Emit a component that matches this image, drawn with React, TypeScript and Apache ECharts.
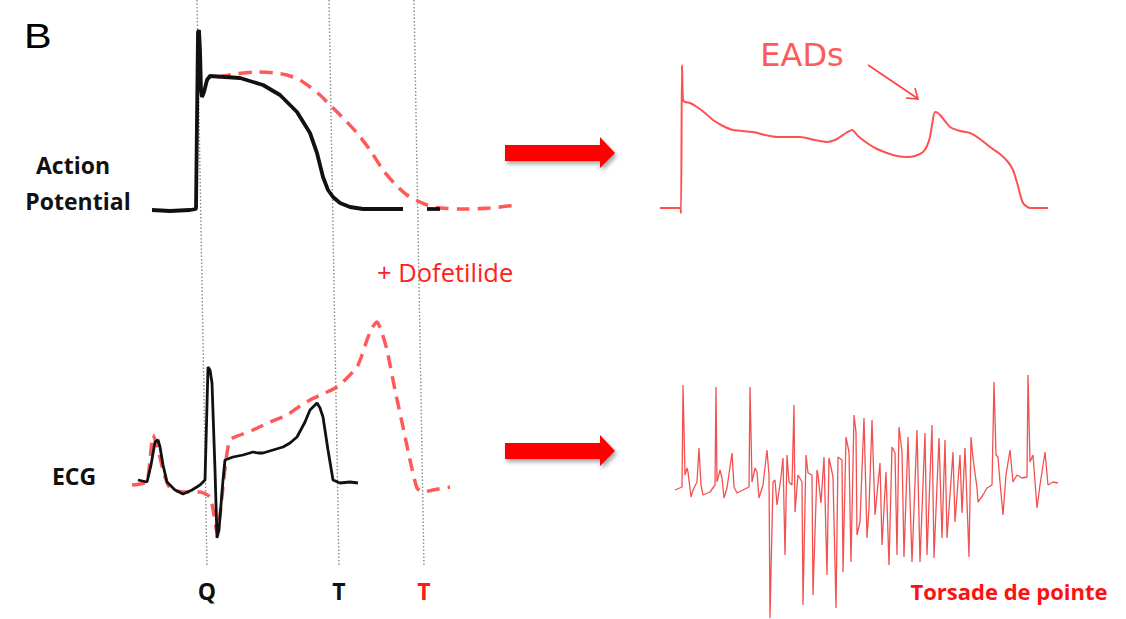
import React, { useEffect, useRef } from "react";
import * as echarts from "echarts";

// Horizontal axis: time position on the figure; vertical axis: signal level (inverted screen scale)
const apControl: number[][] = [
  [152, 210], [170, 211], [190, 210], [196, 209], [197, 120], [198, 32], [199, 30], [200, 50],
  [201, 90], [202, 97], [204, 92], [207, 80], [210, 76], [225, 77], [240, 78], [263, 85],
  [280, 95], [297, 112], [310, 133], [317, 153], [323, 177], [328, 190], [333, 197], [340, 203],
  [350, 207], [363, 209], [403, 209],
];
const apControlTail: number[][] = [[427, 209], [440, 209]];

const apDrug: number[][] = [
  [218, 77], [235, 74], [257, 72], [275, 73], [287, 75], [300, 80], [310, 87], [320, 95],
  [330, 105], [343, 118], [357, 133], [370, 150], [383, 170], [395, 184], [407, 195], [420, 202],
  [430, 206], [440, 208], [463, 209], [490, 208], [517, 205],
];

const ecgControl: number[][] = [
  [138, 480], [147, 482], [151, 465], [155, 442], [158, 440], [160, 447], [163, 465], [167, 482],
  [175, 490], [183, 494], [192, 490], [200, 485], [205, 480], [208, 367], [210, 370], [212, 383],
  [215, 470], [217, 538], [219, 530], [220, 517], [223, 480], [225, 460], [233, 457], [243, 455],
  [253, 452], [258, 453], [263, 453], [273, 450], [283, 447], [290, 443], [297, 437], [305, 422],
  [310, 410], [317, 403], [320, 408], [323, 417], [328, 450], [333, 480], [340, 483], [350, 482],
  [358, 483],
];

const ecgDrug: number[][] = [
  [132, 485], [140, 484], [147, 482], [150, 460], [153, 435], [157, 445], [163, 470], [168, 485],
  [173, 490], [185, 492], [200, 492], [210, 497], [214, 515], [217, 533], [220, 515], [223, 487],
  [226, 460], [230, 440], [240, 435], [253, 430], [270, 422], [287, 415], [300, 406], [310, 400],
  [325, 393], [337, 387], [347, 378], [357, 367], [362, 355], [367, 340], [372, 328], [377, 322],
  [382, 333], [387, 350], [395, 390], [403, 427], [410, 460], [417, 488], [423, 492], [433, 490],
  [450, 487],
];

const eadTrace: number[][] = [
  [660, 208], [680, 208], [681, 213], [682, 65], [683, 100], [685, 102], [690, 103], [697, 107],
  [705, 113], [713, 120], [723, 126], [733, 130], [753, 132], [765, 135], [777, 137], [800, 137],
  [815, 140], [827, 142], [835, 140], [840, 137], [846, 133], [852, 130], [858, 136], [867, 143],
  [877, 149], [887, 153], [897, 156], [907, 157], [915, 156], [923, 152], [927, 146], [930, 137],
  [932, 125], [935, 112], [938, 113], [940, 115], [945, 121], [950, 127], [960, 131], [970, 133],
  [980, 139], [990, 147], [1000, 154], [1008, 162], [1013, 170], [1018, 186], [1023, 203],
  [1030, 208], [1048, 208],
];

const tdpTrace: number[][] = [
  [675, 490], [682, 487], [683, 385], [685, 475], [687, 468], [688, 472], [691, 497], [693, 490],
  [697, 482], [699, 448], [701, 485], [703, 495], [710, 492], [715, 485], [716, 387], [717, 482],
  [720, 470], [722, 478], [724, 498], [727, 488], [732, 453], [734, 487], [737, 493], [747, 488],
  [749, 487], [750, 387], [752, 482], [755, 468], [757, 472], [759, 498], [763, 485], [767, 450],
  [769, 475], [770, 618], [773, 482], [775, 480], [777, 505], [781, 477], [783, 458], [785, 555],
  [787, 455], [789, 482], [792, 485], [794, 405], [795, 512], [798, 475], [802, 482], [803, 605],
  [806, 455], [808, 473], [812, 475], [813, 595], [817, 470], [818, 475], [821, 503], [824, 457],
  [827, 575], [829, 458], [832, 472], [833, 477], [836, 608], [838, 457], [842, 460], [843, 572],
  [846, 437], [849, 452], [851, 562], [854, 415], [856, 432], [857, 535], [860, 522], [864, 418],
  [867, 538], [869, 508], [872, 420], [875, 515], [880, 463], [882, 545], [886, 472], [889, 565],
  [892, 447], [895, 453], [897, 555], [899, 427], [902, 452], [904, 557], [908, 437], [912, 562],
  [917, 430], [920, 562], [925, 433], [927, 555], [932, 425], [934, 558], [939, 438], [942, 538],
  [945, 440], [947, 538], [953, 452], [955, 522], [960, 455], [962, 513], [965, 448], [969, 557],
  [971, 437], [973, 458], [977, 488], [978, 502], [983, 495], [987, 488], [992, 485], [994, 382],
  [996, 455], [998, 457], [1000, 482], [1003, 515], [1006, 475], [1010, 450], [1013, 482],
  [1017, 475], [1022, 478], [1027, 477], [1028, 375], [1030, 462], [1033, 455], [1037, 508],
  [1040, 485], [1045, 452], [1048, 485], [1053, 482], [1058, 483],
];

// Event markers (top and bottom end of each dotted guide)
const markerNames: string[] = ["Q", "T", "T"];
const markerLines: number[][][] = [
  [[197, 0], [207, 567]],
  [[329, 0], [339, 567]],
  [[414, 0], [424, 567]],
];

const RED = "#ff5a5a";
const SANS = "'Open Sans', sans-serif";

export default function App() {
  const ref = useRef<HTMLDivElement>(null);

  useEffect(() => {
    if (!ref.current) return;
    const chart = echarts.init(ref.current, null, { renderer: "svg" });

    const guideSeries = markerLines.map((d, i) => ({
      type: "line",
      name: "guide-" + markerNames[i] + i,
      data: d,
      symbol: "none",
      silent: true,
      z: 1,
      lineStyle: { color: "#8c8c8c", width: 1.4, type: [1.5, 2] },
    }));

    const line = (name: string, data: number[][], style: any, z = 3, smooth: number | boolean = false) => ({
      type: "line",
      name,
      data,
      symbol: "none",
      silent: true,
      smooth,
      z,
      lineStyle: style,
    });

    const label = (text: string, x: number, y: number, size: number, fill: string, bold = true, align = "center") => ({
      type: "text",
      x,
      y,
      style: {
        text,
        fill,
        fontSize: size,
        fontWeight: bold ? "bold" : "normal",
        fontFamily: SANS,
        textAlign: align,
        textVerticalAlign: "middle",
      },
    });

    chart.setOption({
      animation: false,
      backgroundColor: "#ffffff",
      grid: { left: 0, right: 0, top: 0, bottom: 0 },
      xAxis: { type: "value", min: 0, max: 1126, show: false },
      yAxis: { type: "value", min: 0, max: 619, inverse: true, show: false },
      series: [
        ...guideSeries,
        line("AP + Dofetilide", apDrug, { color: RED, width: 3.5, type: [13, 8] }, 3, 0.3),
        line("AP control", apControl, { color: "#111111", width: 3.8 }, 4),
        line("AP control tail", apControlTail, { color: "#111111", width: 3.8 }, 4),
        line("ECG + Dofetilide", ecgDrug, { color: RED, width: 3.5, type: [13, 8] }, 3, 0.2),
        line("ECG control", ecgControl, { color: "#111111", width: 2.8 }, 4),
        line("EAD trace", eadTrace, { color: "#ff5050", width: 2 }, 3, 0.25),
        line("Torsade de pointe", tdpTrace, { color: "#f03232", width: 1.3, opacity: 0.85 }, 3),
      ],
      graphic: [
        {
          type: "text", x: 24, y: 35, scaleX: 1.15,
          style: { text: "B", fill: "#000", fontSize: 36, fontFamily: "'Liberation Sans', Arial, sans-serif", textVerticalAlign: "middle" },
        },
        label("Action", 73, 165, 23, "#111"),
        label("Potential", 78, 201, 23, "#111"),
        label("ECG", 74, 476, 23, "#111"),
        label(markerNames[0], 207, 591, 23, "#111"),
        label(markerNames[1], 339, 591, 23, "#111"),
        label(markerNames[2], 424, 591, 23, "#ff1a1a"),
        label("+ Dofetilide", 377, 272, 25.5, "#ff2020", false, "left"),
        label("Torsade de pointe", 1009, 591, 22, "#ff1010"),
        {
          type: "text", x: 802, y: 55,
          style: { text: "EADs", fill: "#ff5a5a", fontSize: 32, fontFamily: "'DejaVu Sans', sans-serif", textAlign: "center", textVerticalAlign: "middle" },
        },
        {
          type: "line",
          shape: { x1: 868, y1: 65, x2: 917, y2: 98 },
          style: { stroke: "#ff4040", lineWidth: 1.6 },
        },
        {
          type: "polyline",
          shape: { points: [[906, 98], [918, 99], [915, 88]] },
          style: { stroke: "#ff4040", lineWidth: 1.6, fill: null },
        },
        {
          type: "polygon",
          shape: { points: [[505, 145], [600, 145], [600, 137], [615, 153], [600, 168], [600, 161], [505, 161]] },
          style: { fill: "#ff0000", shadowBlur: 4, shadowColor: "rgba(0,0,0,0.35)", shadowOffsetX: 2, shadowOffsetY: 3 },
        },
        {
          type: "polygon",
          shape: { points: [[505, 443], [600, 443], [600, 435], [615, 451], [600, 466], [600, 459], [505, 459]] },
          style: { fill: "#ff0000", shadowBlur: 4, shadowColor: "rgba(0,0,0,0.35)", shadowOffsetX: 2, shadowOffsetY: 3 },
        },
      ],
    });

    return () => chart.dispose();
  }, []);

  return (
    <div
      ref={ref}
      style={{ position: "fixed", left: 0, top: 0, width: 1126, height: 619, background: "#fff" }}
    />
  );
}
